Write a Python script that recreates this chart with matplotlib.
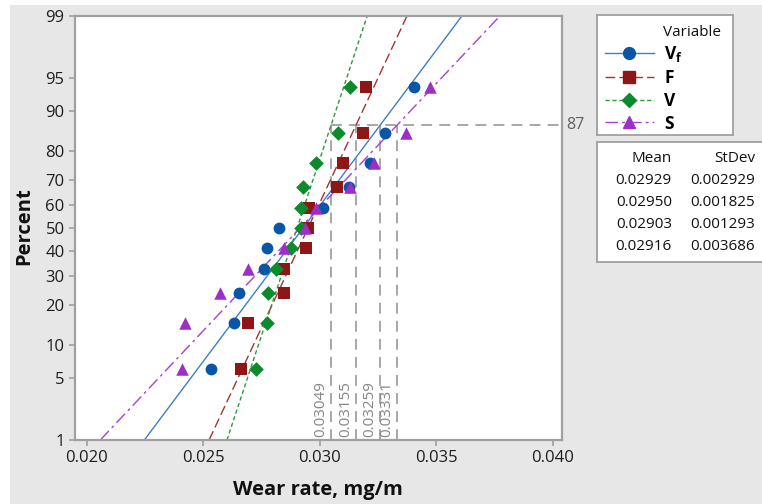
import numpy as np
import matplotlib
matplotlib.use('Agg')
from matplotlib import pyplot as plt
from matplotlib.lines import Line2D
from matplotlib.patches import Rectangle
from statistics import NormalDist

plt.rcParams['font.family'] = ['Open Sans', 'DejaVu Sans']

# Values (11 samples per variable)

pct = [6.1, 14.9, 23.7, 32.5, 41.2, 50.0, 58.8, 67.5, 76.3, 85.1, 93.9]

wear_vf = [0.02534, 0.02633, 0.02653, 0.02759, 0.02776, 0.02827, 0.03015, 0.03124, 0.03218, 0.03279, 0.03403]
wear_f = [0.02662, 0.02692, 0.02845, 0.02846, 0.02942, 0.02948, 0.02955, 0.03075, 0.03101, 0.03187, 0.03200]
wear_v = [0.02726, 0.02774, 0.02780, 0.02812, 0.02878, 0.02920, 0.02920, 0.02929, 0.02986, 0.03080, 0.03130]
wear_s = [0.02411, 0.02423, 0.02574, 0.02691, 0.02848, 0.02939, 0.02984, 0.03132, 0.03232, 0.03371, 0.03473]

variables = ['V$_\\mathregular{f}$', 'F', 'V', 'S']
means = [0.02929, 0.02950, 0.02903, 0.02916]
stdevs = [0.002929, 0.001825, 0.001293, 0.003686]

ref_pct = 87
ref_x = [0.03049, 0.03155, 0.03259, 0.03331]

yticks = [1, 5, 10, 20, 30, 40, 50, 60, 70, 80, 90, 95, 99]
xticks = [0.020, 0.025, 0.030, 0.035, 0.040]

# Styles

colors = ['#0a56a6', '#8e1616', '#0d8a2b', '#9b2fc6']
line_colors = ['#3b7fcb', '#a83232', '#2a9a3a', '#a83fd6']
markers = ['o', 's', 'D', '^']
msizes = [8.5, 8, 7.5, 9]
dashes = [(None, None), (7, 3), (3, 2), (9, 3, 2, 3)]

nd = NormalDist()

def fwd(p):
    p = np.clip(np.asarray(p, dtype=float), 1e-6, 100 - 1e-6)
    return np.vectorize(lambda v: nd.inv_cdf(v / 100), otypes=[float])(p)

def inv(z):
    return np.vectorize(lambda v: nd.cdf(v) * 100, otypes=[float])(np.asarray(z, dtype=float))

fig = plt.figure(figsize=(7.62, 5.04), dpi=100)
fig.patch.set_facecolor('white')
fig.patches.append(Rectangle((10 / 762, 0), 1, 1 - 5 / 504, transform=fig.transFigure,
                             facecolor='#e7e7e7', edgecolor='none', zorder=-10))

ax = fig.add_axes([75 / 762, 64 / 504, 487 / 762, 424 / 504])
ax.set_yscale('function', functions=(fwd, inv))
ax.set_facecolor('white')

series = [wear_vf, wear_f, wear_v, wear_s]
handles = []
for i, vals in enumerate(series):
    # fitted normal line between 1% and 99%
    ends = np.array([1, 99])
    xs = means[i] + stdevs[i] * fwd(ends)
    ln, = ax.plot(xs, ends, color=line_colors[i], lw=1.0, zorder=2)
    if dashes[i][0] is not None:
        ln.set_dashes(dashes[i])
    ax.scatter(vals, pct, marker=markers[i], s=msizes[i] ** 2, color=colors[i], zorder=3 + i,
               linewidths=0)
    h = Line2D([], [], color=line_colors[i], lw=1.0, marker=markers[i], markersize=msizes[i],
               markerfacecolor=colors[i], markeredgecolor=colors[i])
    if dashes[i][0] is not None:
        h.set_dashes(dashes[i])
    handles.append(h)

# reference lines at 87 percent
ax.plot([min(ref_x), 0.0404], [ref_pct, ref_pct], color='#a0a0a0', lw=1.3, dashes=(6, 4), zorder=1)
for xv in ref_x:
    ax.plot([xv, xv], [1, ref_pct], color='#a0a0a0', lw=1.3, dashes=(6, 4), zorder=1)
    ax.annotate('%.5f' % xv, (xv, 1), xytext=(-2, 2.5), textcoords='offset points',
                rotation=90, ha='right', va='bottom', fontsize=11, color='#858585', zorder=2)
ax.annotate(str(ref_pct), (1, ref_pct), xycoords=('axes fraction', 'data'), xytext=(3, 0),
            textcoords='offset points', ha='left', va='center', fontsize=11.5, color='#606060',
            annotation_clip=False)

ax.set_xlim(0.0195, 0.0404)
ax.set_ylim(1, 99)
ax.set_yticks(yticks)
ax.set_yticklabels([str(t) for t in yticks])
ax.yaxis.set_minor_locator(matplotlib.ticker.NullLocator())
ax.set_xticks(xticks)
ax.set_xticklabels(['%.3f' % t for t in xticks])
ax.tick_params(axis='both', colors='#a0a0a0', labelcolor='#1e1e1e', labelsize=12, length=4, width=1.2)
for sp in ax.spines.values():
    sp.set_color('#a0a0a0')
    sp.set_linewidth(1.6)

fig.text(24 / 762, 1 - 226 / 504, 'Percent', rotation=90, ha='center', va='center',
         fontsize=14.5, fontweight='bold', color='#111111')
fig.text(318 / 762, 1 - 490 / 504, 'Wear rate, mg/m', ha='center', va='center',
         fontsize=14.5, fontweight='bold', color='#111111')

# legend box
lax = fig.add_axes([597 / 762, 1 - 135 / 504, 136 / 762, 120 / 504])
lax.set_xticks([])
lax.set_yticks([])
for sp in lax.spines.values():
    sp.set_color('#a0a0a0')
    sp.set_linewidth(1.3)
lax.text(0.91, 0.855, 'Variable', ha='right', va='center', fontsize=11, color='#111111',
         transform=lax.transAxes)
lax.legend(handles, variables, loc='upper left', bbox_to_anchor=(-0.03, 0.86), frameon=False,
           handlelength=2.8, handletextpad=0.6, labelspacing=0.28, borderpad=0.2,
           prop={'weight': 'bold', 'size': 12.5})

# statistics box
tax = fig.add_axes([597 / 762, 1 - 262 / 504, 172 / 762, 120 / 504])
tax.set_xticks([])
tax.set_yticks([])
for sp in tax.spines.values():
    sp.set_color('#a0a0a0')
    sp.set_linewidth(1.3)
fig.text(672 / 762, 1 - 159 / 504, 'Mean', ha='right', va='center', fontsize=11, color='#111111')
fig.text(755 / 762, 1 - 159 / 504, 'StDev', ha='right', va='center', fontsize=11, color='#111111')
row_y = [180, 202, 225, 247]
for m, s, yy in zip(means, stdevs, row_y):
    fig.text(672 / 762, 1 - yy / 504, '%.5f' % m, ha='right', va='center', fontsize=11, color='#111111')
    fig.text(755 / 762, 1 - yy / 504, '%.6f' % s, ha='right', va='center', fontsize=11, color='#111111')

plt.savefig('out.png', dpi=100, facecolor=fig.get_facecolor())
